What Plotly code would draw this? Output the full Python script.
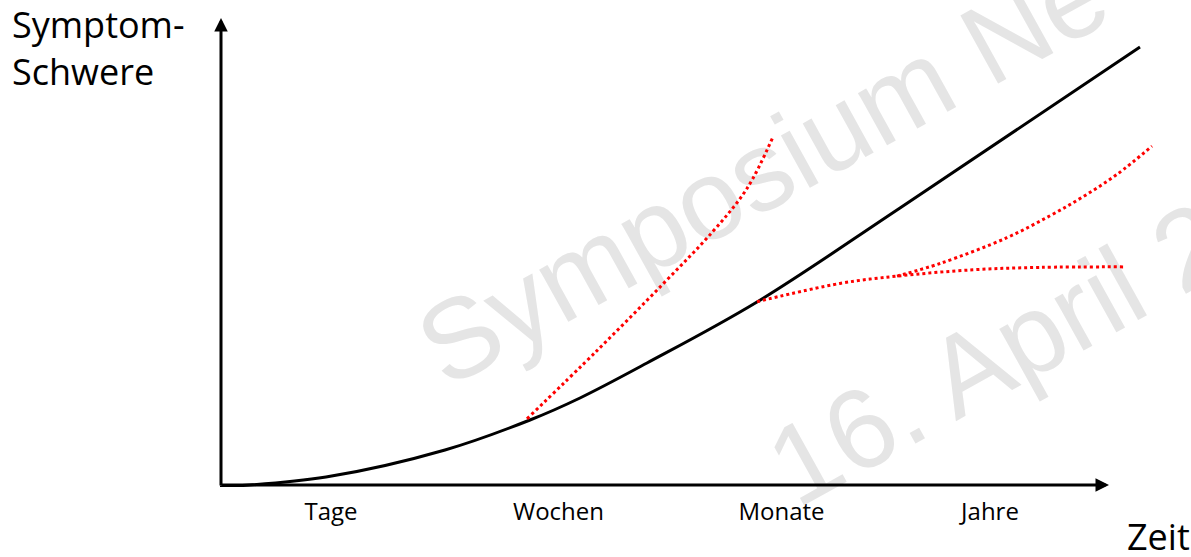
import math
import plotly.graph_objects as go

# ---------------- data ----------------
# time axis is arbitrary units (Tage -> Jahre), severity arbitrary units
stage_labels = ["Tage", "Wochen", "Monate", "Jahre"]
stage_time = [1.11, 3.385, 5.615, 7.70]

main_time = [0, 1.06, 2.25, 3.10, 3.60, 4.27, 5.37, 6.80, 9.20]
main_severity = [0, 0.205, 0.760, 1.376, 1.828, 2.546, 3.799, 5.729, 9.035]

fast_time = [3.07, 3.77, 4.43, 4.93, 5.27, 5.53]
fast_severity = [1.40, 2.80, 4.17, 5.25, 6.13, 7.19]

plateau_time = [5.37, 6.20, 6.77, 7.53, 8.20, 9.05]
plateau_severity = [3.805, 4.18, 4.33, 4.46, 4.51, 4.52]

late_time = [6.77, 7.20, 7.87, 8.30, 8.63, 8.97, 9.32]
late_severity = [4.33, 4.59, 5.12, 5.57, 5.96, 6.42, 7.00]

y_label = "Symptom-<br>Schwere"
x_label = "Zeit"
watermark_lines = ["Symposium Ne", "16. April 2"]

# ---------------- figure ----------------
W, H = 1191, 557
ML, MB = 220, 70
PW, PH = W - ML, H - MB
XMAX = PW / 100.0
YMAX = 10.0

fig = go.Figure()

fig.add_trace(go.Scatter(x=main_time, y=main_severity, mode="lines",
                         line=dict(color="black", width=3, shape="spline", smoothing=1),
                         hoverinfo="skip"))
for tx, ty in [(fast_time, fast_severity), (plateau_time, plateau_severity),
               (late_time, late_severity)]:
    fig.add_trace(go.Scatter(x=tx, y=ty, mode="lines",
                             line=dict(color="#ff0000", width=3, dash="dot",
                                       shape="spline", smoothing=1),
                             hoverinfo="skip"))

# axes as arrows
arrow = dict(showarrow=True, arrowhead=2, arrowsize=0.9, arrowwidth=3,
             arrowcolor="black", axref="x", ayref="y", xref="x", yref="y", text="")
fig.add_annotation(x=8.89, y=0.04, ax=0, ay=0.04, **arrow)
fig.add_annotation(x=0.01, y=9.63, ax=0.01, ay=0, **arrow)

# axis titles
fig.add_annotation(text=y_label, xref="paper", yref="paper",
                   x=(10 - ML) / PW, y=1, yshift=2, xanchor="left", yanchor="top",
                   showarrow=False, align="left",
                   font=dict(family="Open Sans", size=36, color="black"))
fig.add_annotation(text=x_label, xref="paper", yref="paper",
                   x=(1125 - ML) / PW, y=(PH - 536) / PH, xanchor="left", yanchor="middle",
                   showarrow=False,
                   font=dict(family="Open Sans", size=36, color="black"))

# watermark (below traces)
ang = 29.0
wm_centers = [(757, 160), (992, 344)]
for txt, (cx, cy) in zip(watermark_lines, wm_centers):
    dx = 10 * math.cos(math.radians(ang))
    dy = 10 * math.sin(math.radians(ang))
    fig.add_shape(type="line", xref="paper", yref="paper", layer="below",
                  x0=(cx - dx - ML) / PW, y0=(PH - (cy + dy)) / PH,
                  x1=(cx + dx - ML) / PW, y1=(PH - (cy - dy)) / PH,
                  line=dict(width=0, color="rgba(0,0,0,0)"),
                  label=dict(text=txt, textangle=-ang, textposition="middle",
                             xanchor="center", yanchor="middle", padding=0,
                             font=dict(family="Liberation Sans", size=113,
                                       color="#e5e5e5")))

fig.update_xaxes(range=[0, XMAX], showgrid=False, zeroline=False, showline=False,
                 tickmode="array", tickvals=stage_time, ticktext=stage_labels,
                 ticks="", ticklabelstandoff=8,
                 tickfont=dict(family="Open Sans", size=24, color="black"))
fig.update_yaxes(range=[0, YMAX], showgrid=False, zeroline=False, showline=False,
                 showticklabels=False, ticks="")

fig.update_layout(width=W, height=H, margin=dict(l=ML, r=0, t=0, b=MB),
                  showlegend=False, paper_bgcolor="white",
                  plot_bgcolor="rgba(0,0,0,0)")

fig.write_html("out.html", config={"displayModeBar": False},
               post_script="document.body.style.margin='0';document.body.style.overflow='hidden';")
